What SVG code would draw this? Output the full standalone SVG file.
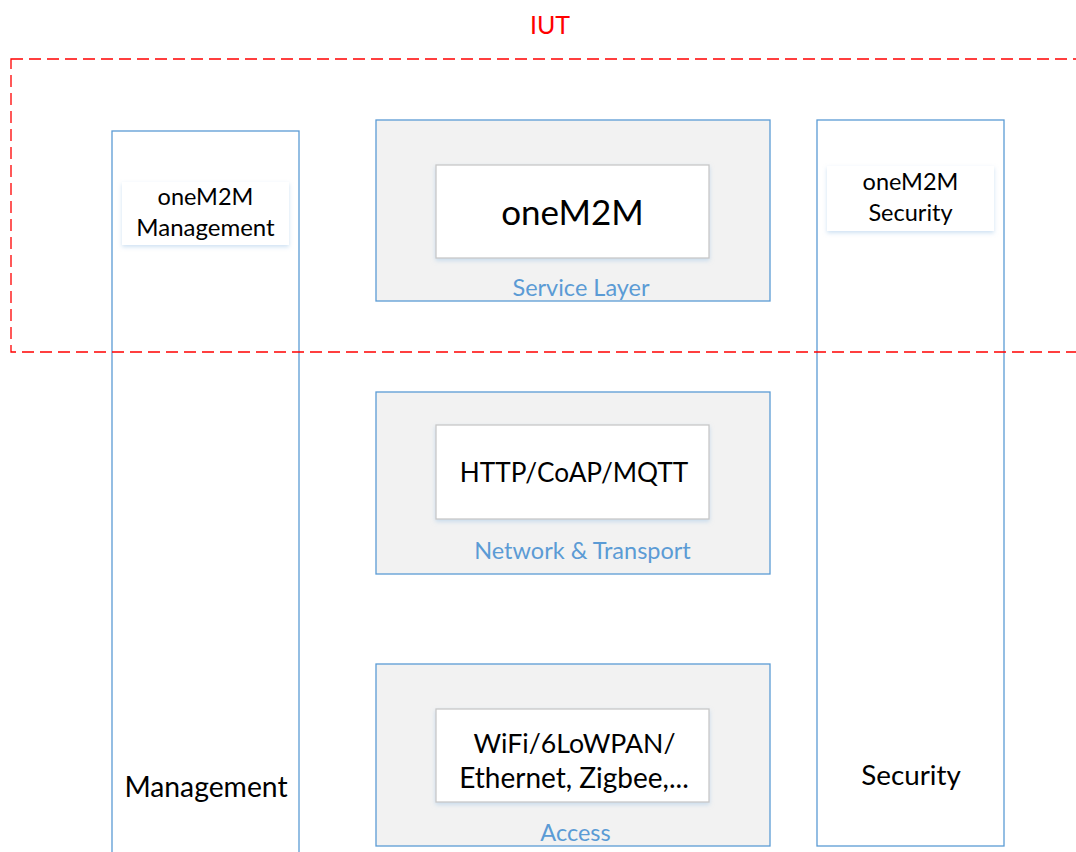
<svg xmlns="http://www.w3.org/2000/svg" width="1076" height="852" viewBox="0 0 1076 852">
<defs>
<filter id="sh" x="-10%" y="-10%" width="120%" height="130%">
<feDropShadow dx="0" dy="2" stdDeviation="2" flood-color="#9dc3e6" flood-opacity="0.5"/>
</filter>
<style>
.col{fill:#ffffff;stroke:#5b9bd5;stroke-width:1.3}
.layer{fill:#f2f2f2;stroke:#5b9bd5;stroke-width:1.3}
.inner{fill:#ffffff;stroke:#c8c8c8;stroke-width:1.3}
.lbl{fill:#ffffff}
.t{font-family:Lato,"Open Sans","Liberation Sans",sans-serif;fill:#000;text-anchor:middle}
.blue{font-family:Lato,"Open Sans","Liberation Sans",sans-serif;fill:#5b9bd5;text-anchor:middle;font-size:23.5px}
</style>
</defs>
<rect width="1076" height="852" fill="#ffffff"/>
<g id="management">
<rect class="col" x="112" y="131" width="187" height="740"/>
<rect class="lbl" x="122" y="182" width="167" height="63" filter="url(#sh)"/>
<text class="t" x="205.5" y="205" font-size="23.5">oneM2M</text>
<text class="t" x="205.5" y="236" font-size="24">Management</text>
<text class="t" x="206" y="797" font-size="28.3">Management</text>
</g>
<g id="security">
<rect class="col" x="817" y="120" width="187" height="726"/>
<rect class="lbl" x="827" y="166" width="167" height="65" filter="url(#sh)"/>
<text class="t" x="910.5" y="190" font-size="23.5">oneM2M</text>
<text class="t" x="910.5" y="221" font-size="23.5">Security</text>
<text class="t" x="911" y="785" font-size="27.8">Security</text>
</g>
<g id="service-layer">
<rect class="layer" x="376" y="120" width="394" height="181"/>
<rect class="inner" x="436" y="165" width="273" height="93" filter="url(#sh)"/>
<text class="t" x="572.5" y="225" font-size="35">oneM2M</text>
<text class="blue" x="581" y="296">Service Layer</text>
</g>
<g id="network-transport">
<rect class="layer" x="376" y="392" width="394" height="182"/>
<rect class="inner" x="436" y="425" width="273" height="94" filter="url(#sh)"/>
<text class="t" x="574" y="482" font-size="26.2">HTTP/CoAP/MQTT</text>
<text class="blue" x="582.5" y="559" font-size="24">Network &amp; Transport</text>
</g>
<g id="access">
<rect class="layer" x="376" y="664" width="394" height="182"/>
<rect class="inner" x="436" y="709" width="273" height="93" filter="url(#sh)"/>
<text class="t" x="574.5" y="753" font-size="26.7">WiFi/6LoWPAN/</text>
<text class="t" x="574" y="788" font-size="28">Ethernet, Zigbee,...</text>
<text class="blue" x="575.5" y="841">Access</text>
</g>
<g id="iut">
<rect x="11" y="59" width="1080" height="293" fill="none" stroke="#ff0000" stroke-width="1.3" stroke-dasharray="12 6"/>
<text x="550" y="34" font-family="Lato,'Open Sans','Liberation Sans',sans-serif" font-size="25" fill="#ff0000" text-anchor="middle">IUT</text>
</g>
<g id="connectors"></g>
</svg>
